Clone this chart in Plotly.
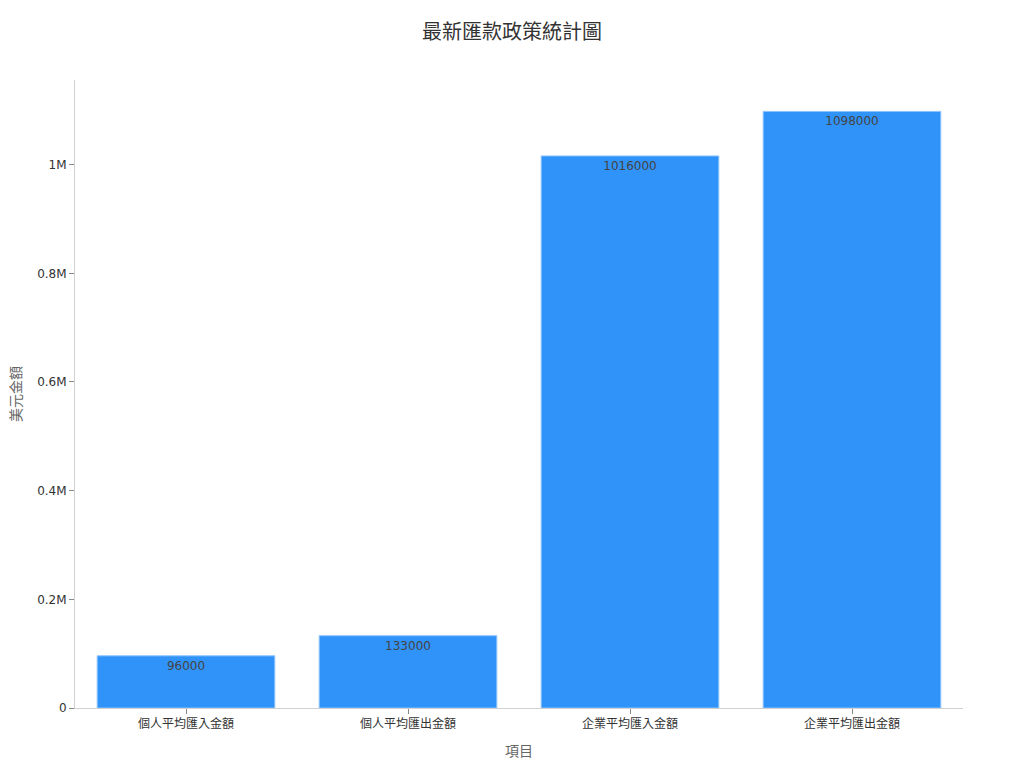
import plotly.graph_objects as go

categories = ["個人平均匯入金額", "個人平均匯出金額", "企業平均匯入金額", "企業平均匯出金額"]
amounts = [96000, 133000, 1016000, 1098000]
y_tick_values = [0, 200000, 400000, 600000, 800000, 1000000]
y_tick_labels = ["0", "0.2M", "0.4M", "0.6M", "0.8M", "1M"]

font_family = "DejaVu Sans, Noto Sans CJK TC, sans-serif"

fig = go.Figure()
fig.add_trace(go.Bar(
    x=categories,
    y=amounts,
    text=amounts,
    textposition="inside",
    insidetextanchor="end",
    textfont=dict(color="#444444", size=12),
    marker=dict(color="#3093f9", line=dict(color="#8cc3fb", width=1)),
))

fig.update_layout(
    width=1008,
    height=752,
    template="plotly_white",
    font=dict(family=font_family, size=12, color="#333333"),
    title=dict(text="最新匯款政策統計圖", x=0.5, y=0.968, xanchor="center", yanchor="middle",
               font=dict(size=20, color="#333333")),
    margin=dict(l=67, r=53, t=72, b=52, autoexpand=False),
    bargap=0.2,
    showlegend=False,
    plot_bgcolor="white",
    paper_bgcolor="white",
)
fig.update_xaxes(
    title=dict(text="項目", font=dict(size=14, color="#666666")),
    automargin=False,
    showgrid=False, showline=True, linecolor="#d0d0d0",
    ticks="outside", tickcolor="#888888", ticklen=5,
)
fig.update_yaxes(
    title=dict(text="美元金額", font=dict(size=14, color="#666666"), standoff=25),
    automargin=False,
    showgrid=False, showline=True, linecolor="#d0d0d0", zeroline=False,
    ticks="outside", tickcolor="#888888", ticklen=5,
    tickvals=y_tick_values, ticktext=y_tick_labels,
)

fig.write_html("out.html")
